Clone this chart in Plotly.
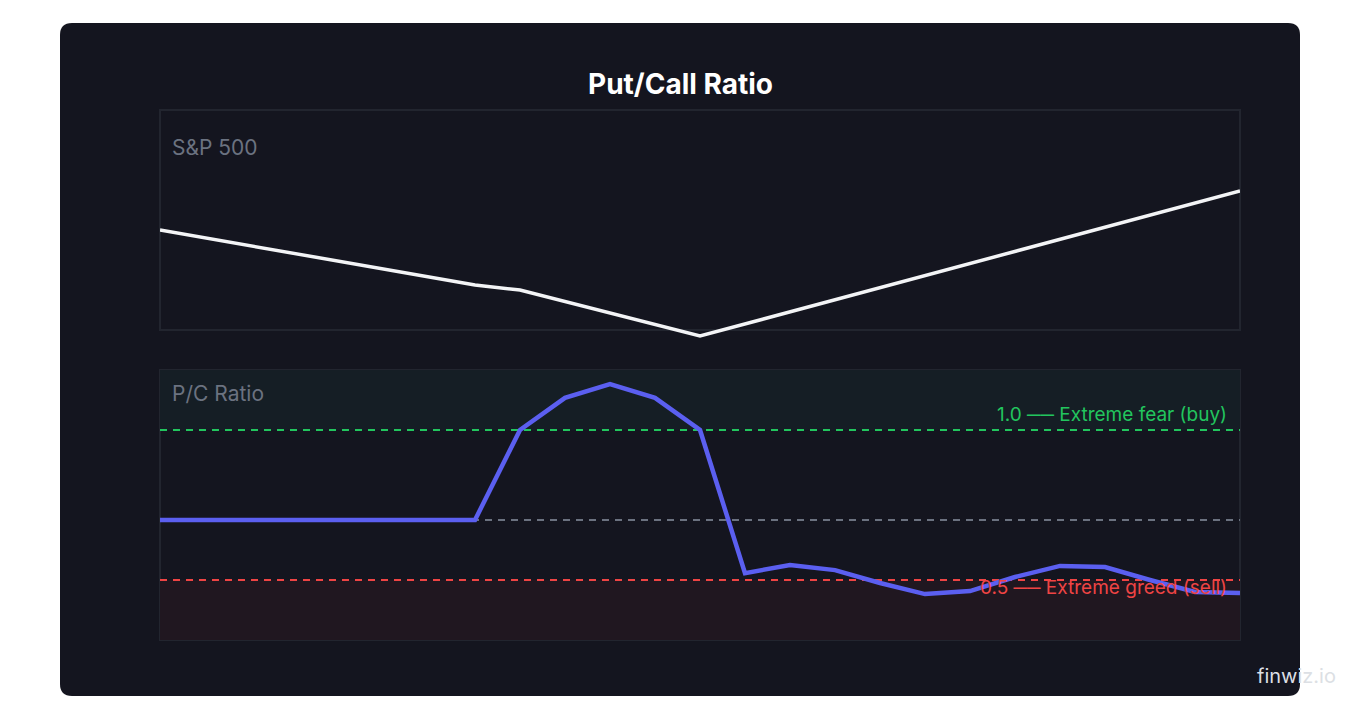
import plotly.graph_objects as go

W, H = 1360, 720
OFF = 8  # page body margin
x_idx = list(range(25))
sp_x = [0, 7, 8, 12, 24]
sp_vals = [4100, 4045, 4040, 3994, 4139]
pc_vals = [0.70, 0.70, 0.70, 0.70, 0.70, 0.70, 0.70, 0.70, 1.00, 1.107, 1.153, 1.107, 1.00,
           0.523, 0.55, 0.533, 0.49, 0.453, 0.463, 0.51, 0.547, 0.543, 0.50, 0.46, 0.457]
fear_level, neutral_level, greed_level = 1.0, 0.7, 0.5
title = "Put/Call Ratio"

def px(xp): return (xp - OFF) / W
def py(yp): return 1 - (yp - OFF) / H

FONT = "Inter, Noto Sans, sans-serif"
fig = go.Figure()
fig.add_trace(go.Scatter(x=sp_x, y=sp_vals, mode="lines", line=dict(color="#f3f4f6", width=3.5),
                         xaxis="x", yaxis="y", cliponaxis=False, hoverinfo="skip"))
fig.add_trace(go.Scatter(x=x_idx, y=pc_vals, mode="lines", line=dict(color="#5b5ff0", width=4.5),
                         xaxis="x2", yaxis="y2", cliponaxis=False, hoverinfo="skip"))

x0, x1, y0, y1, r = px(60), px(1300), py(696), py(23), 12
rx, ry = r / W, r / H
path = (f"M {x0+rx},{y0} L {x1-rx},{y0} Q {x1},{y0} {x1},{y0+ry} L {x1},{y1-ry} Q {x1},{y1} {x1-rx},{y1} "
        f"L {x0+rx},{y1} Q {x0},{y1} {x0},{y1-ry} L {x0},{y0+ry} Q {x0},{y0} {x0+rx},{y0} Z")
shapes = [dict(type="path", path=path, xref="paper", yref="paper", fillcolor="#14151f", line=dict(width=0), layer="below")]
shapes.append(dict(type="rect", xref="x2", yref="y2", x0=0, x1=24, y0=fear_level, y1=1.2,
                   fillcolor="#151e25", line=dict(width=0), layer="below"))
shapes.append(dict(type="rect", xref="x2", yref="y2", x0=0, x1=24, y0=0.3, y1=greed_level,
                   fillcolor="#201720", line=dict(width=0), layer="below"))
for yr in [(110, 330), (370, 640)]:
    shapes.append(dict(type="rect", xref="paper", yref="paper", x0=px(160), x1=px(1240), y0=py(yr[1]), y1=py(yr[0]),
                       line=dict(color="#22252f", width=2), layer="below"))
for lvl, col in [(fear_level, "#22c55e"), (neutral_level, "#6b7280"), (greed_level, "#ef4444")]:
    shapes.append(dict(type="line", xref="x2", yref="y2", x0=0, x1=24, y0=lvl, y1=lvl,
                       line=dict(color=col, width=2, dash="7px,6px"), layer="below"))

ann = [
    dict(text=f"<b>{title}</b>", x=px(680), y=py(65), xref="paper", yref="paper", showarrow=False,
         font=dict(size=28, color="#ffffff", family=FONT)),
    dict(text="S&P 500", x=px(170), y=py(133), xref="paper", yref="paper", showarrow=False, xanchor="left",
         font=dict(size=21, color="#6b7280", family=FONT)),
    dict(text="P/C Ratio", x=px(170), y=py(393), xref="paper", yref="paper", showarrow=False, xanchor="left",
         font=dict(size=21, color="#6b7280", family=FONT)),
    dict(text="1.0 ── Extreme fear (buy)", x=px(1229), y=py(414), xref="paper", yref="paper", showarrow=False,
         xanchor="right", font=dict(size=19, color="#22c55e", family=FONT)),
    dict(text="0.5 ── Extreme greed (sell)", x=px(1229), y=py(601), xref="paper", yref="paper", showarrow=False,
         xanchor="right", font=dict(size=19, color="#ef4444", family=FONT)),
    dict(text="finwiz.io", x=px(1338), y=py(690), xref="paper", yref="paper", showarrow=False,
         xanchor="right", font=dict(size=20, color="#dcdfe4", family=FONT)),
]

ax = dict(showgrid=False, zeroline=False, showticklabels=False, ticks="", showline=False, fixedrange=True)
fig.update_layout(
    width=W, height=H, margin=dict(l=0, r=0, t=0, b=0), paper_bgcolor="#ffffff", plot_bgcolor="rgba(0,0,0,0)",
    showlegend=False, shapes=shapes, annotations=ann,
    xaxis=dict(ax, domain=[px(160), px(1240)], range=[0, 24], anchor="y"),
    yaxis=dict(ax, domain=[py(345), py(110)], range=[3985, 4220], anchor="x"),
    xaxis2=dict(ax, domain=[px(160), px(1240)], range=[0, 24], anchor="y2"),
    yaxis2=dict(ax, domain=[py(640), py(370)], range=[0.3, 1.2], anchor="x2"),
)
fig.write_html("out.html")
